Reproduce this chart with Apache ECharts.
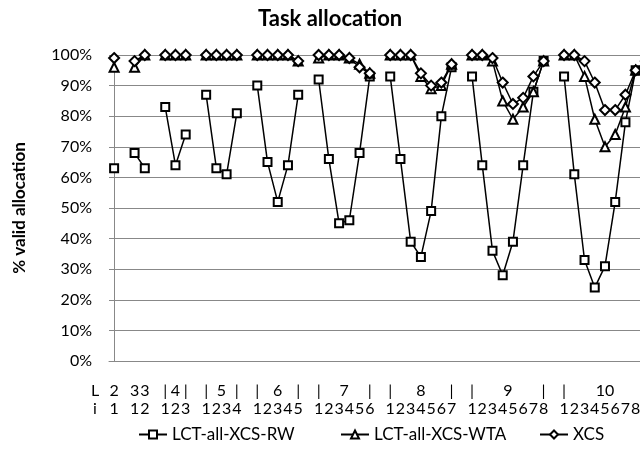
<!DOCTYPE html>
<html>
<head>
<meta charset="utf-8">
<script src="https://cdn.jsdelivr.net/npm/echarts@6/dist/echarts.min.js"></script>
<style>html,body{margin:0;padding:0;background:#fff}#c{width:640px;height:449px}</style>
</head>
<body>
<div id="c"></div>
<script>
// ---- data ----
const titleText = 'Task allocation';
const yAxisTitle = '% valid allocation';
const levels = [2, 3, 4, 5, 6, 7, 8, 9, 10];
const iRowLabels = ['1', '12', '123', '1234', '12345', '123456', '1234567', '12345678', '123456789'];
const lRowTokens = [['2'], ['3', '3'], ['|', '4', '|'], ['|', '5', '|'], ['|', '6', '|'], ['|', '7', '|'], ['|', '8', '|'], ['|', '9', '|'], ['|', '10', '|']];
const rowHeads = ['L', 'i'];
const seriesNames = ['LCT-all-XCS-RW', 'LCT-all-XCS-WTA', 'XCS'];
const rw = [63, 68, 63, 83, 64, 74, 87, 63, 61, 81, 90, 65, 52, 64, 87, 92, 66, 45, 46, 68, 93,
  93, 66, 39, 34, 49, 80, 96, 93, 64, 36, 28, 39, 64, 88, 98, 93, 61, 33, 24, 31, 52, 78, 95, 97];
const wta = [96, 96, 100, 100, 100, 100, 100, 100, 100, 100, 100, 100, 100, 100, 98, 99, 100, 100, 99, 97, 94,
  100, 100, 100, 93, 89, 90, 97, 100, 100, 98, 85, 79, 83, 88, 98, 100, 100, 93, 79, 70, 74, 83, 95, 98];
const xcs = [99, 98, 100, 100, 100, 100, 100, 100, 100, 100, 100, 100, 100, 100, 98, 100, 100, 100, 99, 96, 94,
  100, 100, 100, 94, 90, 91, 97, 100, 100, 99, 91, 84, 86, 93, 98, 100, 100, 98, 91, 82, 82, 87, 95, 98];
const yMin = 0, yMax = 100, yStep = 10;

// ---- build categories with one empty slot between groups ----
const cats = [];
const groups = [];
levels.forEach((L, g) => {
  if (g > 0) cats.push('');
  const s = cats.length;
  for (let i = 1; i < L; i++) cats.push(L + '-' + i);
  groups.push({ s: s, e: cats.length - 1, n: L - 1 });
});
function expand(vals) {
  const out = [];
  let k = 0;
  levels.forEach((L, g) => {
    if (g > 0) out.push(null);
    for (let i = 1; i < L; i++) out.push(vals[k++]);
  });
  return out;
}
const lMap = {}, iMap = {};
groups.forEach((gr, g) => {
  const t = lRowTokens[g];
  const c2 = gr.s + gr.e; // doubled center
  if (t.length === gr.n) {
    t.forEach((tok, j) => { lMap[2 * (gr.s + j)] = tok; });
  } else if (t.length === 3) {
    lMap[2 * gr.s] = t[0]; lMap[c2] = t[1]; lMap[2 * gr.e] = t[2];
  } else {
    lMap[c2] = t[0];
  }
  iRowLabels[g].split('').forEach((ch, j) => { iMap[2 * (gr.s + j)] = ch; });
});
const lastIdx = cats.length - 1;
const FONT = 'Lato, "Open Sans", sans-serif';
const gray = '#888888';

function labelAxis(map, offset) {
  return {
    type: 'value', min: -0.5, max: lastIdx + 0.5, interval: 0.5,
    position: 'bottom', offset: offset,
    axisLine: { show: false }, axisTick: { show: false }, splitLine: { show: false },
    axisLabel: {
      show: true, margin: 0, color: '#000', fontFamily: FONT, fontSize: 16,
      showMinLabel: true, showMaxLabel: true,
      formatter: v => { const k = Math.round(v * 2); return map[k] !== undefined ? map[k] : ''; }
    }
  };
}

const chart = echarts.init(document.getElementById('c'), null, { renderer: 'canvas' });
const symbols = ['emptyRect', 'emptyTriangle', 'emptyDiamond'];
const sizes = [8, 9, 10];
const vals = [rw, wta, xcs];
const legendLeft = [138, 340, 539];

chart.setOption({
  animation: false,
  backgroundColor: '#fff',
  title: {
    text: titleText, left: 258, top: 8, padding: 0,
    textStyle: { fontFamily: FONT, fontWeight: 'bold', fontSize: 22, color: '#000' }
  },
  legend: seriesNames.map((n, k) => ({
    data: [n], left: legendLeft[k], top: 426, itemWidth: 28, itemHeight: 10, padding: 0,
    textStyle: { fontFamily: FONT, fontSize: 17, color: '#000' }
  })),
  grid: { left: 109, right: -11, top: 55, bottom: 88, containLabel: false, outerBoundsMode: 'none' },
  xAxis: [
    {
      type: 'category', data: cats, boundaryGap: true,
      axisLine: { show: true, lineStyle: { color: gray, width: 1 } },
      axisTick: { show: false }, axisLabel: { show: false }, splitLine: { show: false }
    },
    labelAxis(lMap, 22),
    labelAxis(iMap, 40)
  ],
  yAxis: {
    type: 'value', min: yMin, max: yMax, interval: yStep,
    name: yAxisTitle, nameLocation: 'middle', nameRotate: 90, nameGap: 81,
    nameTextStyle: { fontFamily: FONT, fontWeight: 'bold', fontSize: 17, color: '#000' },
    axisLine: { show: true, lineStyle: { color: gray, width: 1 } },
    axisTick: { show: false },
    splitLine: { show: true, lineStyle: { color: gray, width: 1 } },
    axisLabel: { formatter: '{value}%', margin: 17, fontFamily: FONT, fontSize: 16, color: '#000' }
  },
  graphic: rowHeads.map((t, j) => ({
    type: 'text', x: 95, y: 391 + j * 18,
    style: { text: t, font: '16px ' + FONT, fill: '#000', align: 'center', verticalAlign: 'middle' }
  })),
  series: seriesNames.map((name, k) => ({
    name: name, type: 'line', xAxisIndex: 0, data: expand(vals[k]),
    symbol: symbols[k], symbolSize: sizes[k], showSymbol: true, showAllSymbol: true,
    connectNulls: false,
    lineStyle: { color: '#000', width: 1.5 },
    itemStyle: { color: '#000', borderWidth: 1.5 },
    z: 2 + k
  }))
});
</script>
</body>
</html>
